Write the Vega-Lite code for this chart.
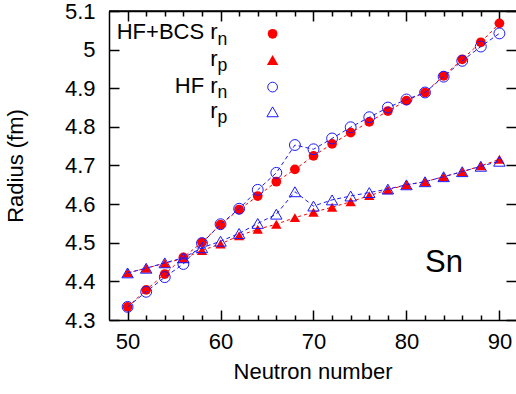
{
  "$schema": "https://vega.github.io/schema/vega-lite/v6.json",
  "width": 407,
  "height": 309,
  "autosize": "none",
  "padding": {"left": 109, "top": 11, "right": 0, "bottom": 74},
  "background": "white",
  "config": {
    "font": "Liberation Sans",
    "view": {"stroke": null},
    "axis": {
      "domainColor": "black",
      "domainWidth": 1.5,
      "tickColor": "black",
      "tickWidth": 1.5,
      "grid": false,
      "labelFont": "Liberation Sans",
      "labelFontSize": 22,
      "labelColor": "black",
      "titleFont": "Liberation Sans",
      "titleFontSize": 22,
      "titleFontWeight": "normal",
      "titleColor": "black"
    }
  },
  "datasets": {
    "radii": [
      {"N": 50, "bcs_rn": 4.334, "bcs_rp": 4.422, "hf_rn": 4.334, "hf_rp": 4.422},
      {"N": 52, "bcs_rn": 4.378, "bcs_rp": 4.434, "hf_rn": 4.373, "hf_rp": 4.434},
      {"N": 54, "bcs_rn": 4.419, "bcs_rp": 4.447, "hf_rn": 4.411, "hf_rp": 4.448},
      {"N": 56, "bcs_rn": 4.462, "bcs_rp": 4.459, "hf_rn": 4.445, "hf_rp": 4.461},
      {"N": 58, "bcs_rn": 4.501, "bcs_rp": 4.480, "hf_rn": 4.499, "hf_rp": 4.487},
      {"N": 60, "bcs_rn": 4.547, "bcs_rp": 4.497, "hf_rn": 4.548, "hf_rp": 4.504},
      {"N": 62, "bcs_rn": 4.586, "bcs_rp": 4.518, "hf_rn": 4.588, "hf_rp": 4.524},
      {"N": 64, "bcs_rn": 4.621, "bcs_rp": 4.535, "hf_rn": 4.637, "hf_rp": 4.550},
      {"N": 66, "bcs_rn": 4.658, "bcs_rp": 4.548, "hf_rn": 4.681, "hf_rp": 4.574},
      {"N": 68, "bcs_rn": 4.690, "bcs_rp": 4.565, "hf_rn": 4.753, "hf_rp": 4.632},
      {"N": 70, "bcs_rn": 4.725, "bcs_rp": 4.579, "hf_rn": 4.742, "hf_rp": 4.595},
      {"N": 72, "bcs_rn": 4.756, "bcs_rp": 4.592, "hf_rn": 4.770, "hf_rp": 4.611},
      {"N": 74, "bcs_rn": 4.785, "bcs_rp": 4.606, "hf_rn": 4.799, "hf_rp": 4.621},
      {"N": 76, "bcs_rn": 4.813, "bcs_rp": 4.622, "hf_rn": 4.825, "hf_rp": 4.630},
      {"N": 78, "bcs_rn": 4.841, "bcs_rp": 4.637, "hf_rn": 4.850, "hf_rp": 4.639},
      {"N": 80, "bcs_rn": 4.868, "bcs_rp": 4.650, "hf_rn": 4.871, "hf_rp": 4.650},
      {"N": 82, "bcs_rn": 4.889, "bcs_rp": 4.658, "hf_rn": 4.889, "hf_rp": 4.658},
      {"N": 84, "bcs_rn": 4.932, "bcs_rp": 4.671, "hf_rn": 4.930, "hf_rp": 4.671},
      {"N": 86, "bcs_rn": 4.975, "bcs_rp": 4.684, "hf_rn": 4.971, "hf_rp": 4.684},
      {"N": 88, "bcs_rn": 5.019, "bcs_rp": 4.699, "hf_rn": 5.008, "hf_rp": 4.698},
      {"N": 90, "bcs_rn": 5.068, "bcs_rp": 4.716, "hf_rn": 5.042, "hf_rp": 4.711}
    ],
    "one": [{}]
  },
  "layer": [
    {
      "data": {"name": "one"},
      "mark": {"type": "rule", "color": "black", "strokeWidth": 1.5},
      "encoding": {
        "x": {"datum": 48, "type": "quantitative", "scale": {"domain": [48, 91.785], "nice": false, "zero": false}, "axis": null},
        "x2": {"datum": 91.785},
        "y": {"datum": 5.1, "type": "quantitative", "scale": {"domain": [4.3, 5.1], "nice": false, "zero": false}, "axis": null}
      }
    },
    {
      "data": {"name": "radii"},
      "transform": [{"fold": ["bcs_rn", "bcs_rp"], "as": ["series", "radius"]}],
      "mark": {"type": "line", "color": "#ff0000", "strokeWidth": 1, "strokeDash": [3, 3]},
      "encoding": {
        "x": {"field": "N", "type": "quantitative",
          "axis": {"orient": "bottom", "values": [50, 60, 70, 80, 90], "tickSize": -10, "labelPadding": 21, "title": "Neutron number", "titlePadding": 9}},
        "y": {"field": "radius", "type": "quantitative",
          "axis": {"orient": "left", "values": [4.3, 4.4, 4.5, 4.6, 4.7, 4.8, 4.9, 5.0, 5.1], "format": "~g", "tickSize": -10, "labelPadding": 24, "title": "Radius (fm)", "titlePadding": 37}},
        "detail": {"field": "series", "type": "nominal"}
      }
    },
    {
      "data": {"name": "radii"},
      "transform": [{"fold": ["bcs_rn", "bcs_rp"], "as": ["series", "radius"]}],
      "mark": {"type": "point", "filled": true, "opacity": 1, "color": "#ff0000", "strokeWidth": 0},
      "encoding": {
        "x": {"field": "N", "type": "quantitative",
          "axis": {"orient": "bottom", "values": [52, 54, 56, 58, 62, 64, 66, 68, 72, 74, 76, 78, 82, 84, 86, 88], "tickSize": -5, "labels": false, "domain": false, "title": null}},
        "y": {"field": "radius", "type": "quantitative", "axis": null},
        "shape": {"field": "series", "type": "nominal", "scale": {"domain": ["bcs_rn", "bcs_rp"], "range": ["circle", "triangle-up"]}, "legend": null},
        "size": {"field": "series", "type": "nominal", "scale": {"domain": ["bcs_rn", "bcs_rp"], "range": [95, 130]}, "legend": null}
      }
    },
    {
      "data": {"name": "radii"},
      "transform": [{"fold": ["hf_rn", "hf_rp"], "as": ["series", "radius"]}],
      "mark": {"type": "line", "color": "#1a1aff", "strokeWidth": 1, "strokeDash": [4, 3]},
      "encoding": {
        "x": {"field": "N", "type": "quantitative",
          "axis": {"orient": "top", "values": [50, 60, 70, 80, 90], "tickSize": -10, "labels": false, "title": null}},
        "y": {"field": "radius", "type": "quantitative",
          "axis": {"orient": "right", "values": [4.3, 4.4, 4.5, 4.6, 4.7, 4.8, 4.9, 5.0, 5.1], "tickSize": -10, "labels": false, "domain": false, "title": null}},
        "detail": {"field": "series", "type": "nominal"}
      }
    },
    {
      "data": {"name": "radii"},
      "transform": [{"fold": ["hf_rn", "hf_rp"], "as": ["series", "radius"]}],
      "mark": {"type": "point", "filled": false, "opacity": 1, "color": "#1a1aff", "strokeWidth": 1},
      "encoding": {
        "x": {"field": "N", "type": "quantitative",
          "axis": {"orient": "top", "values": [52, 54, 56, 58, 62, 64, 66, 68, 72, 74, 76, 78, 82, 84, 86, 88], "tickSize": -5, "labels": false, "domain": false, "title": null}},
        "y": {"field": "radius", "type": "quantitative", "axis": null},
        "shape": {"field": "series", "type": "nominal", "scale": {"domain": ["hf_rn", "hf_rp"], "range": ["circle", "triangle-up"]}, "legend": null},
        "size": {"field": "series", "type": "nominal", "scale": {"domain": ["hf_rn", "hf_rp"], "range": [95, 130]}, "legend": null}
      }
    },
    {
      "data": {"name": "one"},
      "mark": {"type": "text", "text": "Sn", "fontSize": 31, "align": "left", "baseline": "alphabetic", "color": "black"},
      "encoding": {"x": {"datum": 82, "type": "quantitative", "axis": null}, "y": {"datum": 4.424, "type": "quantitative", "axis": null}}
    },
    {
      "data": {"name": "one"},
      "mark": {"type": "text", "text": "HF+BCS r", "fontSize": 22, "align": "right", "baseline": "alphabetic", "color": "black"},
      "encoding": {"x": {"datum": 59.68, "type": "quantitative", "axis": null}, "y": {"datum": 5.0267, "type": "quantitative", "axis": null}}
    },
    {
      "data": {"name": "one"},
      "mark": {"type": "text", "text": "n", "fontSize": 17.6, "align": "left", "baseline": "alphabetic", "dy": 5.7, "color": "black"},
      "encoding": {"x": {"datum": 59.68, "type": "quantitative", "axis": null}, "y": {"datum": 5.0267, "type": "quantitative", "axis": null}}
    },
    {
      "data": {"name": "one"},
      "mark": {"type": "text", "text": "r", "fontSize": 22, "align": "right", "baseline": "alphabetic", "color": "black"},
      "encoding": {"x": {"datum": 59.68, "type": "quantitative", "axis": null}, "y": {"datum": 4.9586, "type": "quantitative", "axis": null}}
    },
    {
      "data": {"name": "one"},
      "mark": {"type": "text", "text": "p", "fontSize": 17.6, "align": "left", "baseline": "alphabetic", "dy": 5.7, "color": "black"},
      "encoding": {"x": {"datum": 59.68, "type": "quantitative", "axis": null}, "y": {"datum": 4.9586, "type": "quantitative", "axis": null}}
    },
    {
      "data": {"name": "one"},
      "mark": {"type": "text", "text": "HF r", "fontSize": 22, "align": "right", "baseline": "alphabetic", "color": "black"},
      "encoding": {"x": {"datum": 59.68, "type": "quantitative", "axis": null}, "y": {"datum": 4.8887, "type": "quantitative", "axis": null}}
    },
    {
      "data": {"name": "one"},
      "mark": {"type": "text", "text": "n", "fontSize": 17.6, "align": "left", "baseline": "alphabetic", "dy": 5.7, "color": "black"},
      "encoding": {"x": {"datum": 59.68, "type": "quantitative", "axis": null}, "y": {"datum": 4.8887, "type": "quantitative", "axis": null}}
    },
    {
      "data": {"name": "one"},
      "mark": {"type": "text", "text": "r", "fontSize": 22, "align": "right", "baseline": "alphabetic", "color": "black"},
      "encoding": {"x": {"datum": 59.68, "type": "quantitative", "axis": null}, "y": {"datum": 4.824, "type": "quantitative", "axis": null}}
    },
    {
      "data": {"name": "one"},
      "mark": {"type": "text", "text": "p", "fontSize": 17.6, "align": "left", "baseline": "alphabetic", "dy": 5.7, "color": "black"},
      "encoding": {"x": {"datum": 59.68, "type": "quantitative", "axis": null}, "y": {"datum": 4.824, "type": "quantitative", "axis": null}}
    },
    {
      "data": {"name": "one"},
      "mark": {"type": "point", "shape": "circle", "size": 95, "filled": true, "opacity": 1, "color": "#ff0000", "strokeWidth": 0},
      "encoding": {"x": {"datum": 65.6, "type": "quantitative", "axis": null}, "y": {"datum": 5.041, "type": "quantitative", "axis": null}}
    },
    {
      "data": {"name": "one"},
      "mark": {"type": "point", "shape": "triangle-up", "size": 130, "filled": true, "opacity": 1, "color": "#ff0000", "strokeWidth": 0},
      "encoding": {"x": {"datum": 65.6, "type": "quantitative", "axis": null}, "y": {"datum": 4.973, "type": "quantitative", "axis": null}}
    },
    {
      "data": {"name": "one"},
      "mark": {"type": "point", "shape": "circle", "size": 95, "filled": false, "opacity": 1, "color": "#1a1aff", "strokeWidth": 1},
      "encoding": {"x": {"datum": 65.6, "type": "quantitative", "axis": null}, "y": {"datum": 4.903, "type": "quantitative", "axis": null}}
    },
    {
      "data": {"name": "one"},
      "mark": {"type": "point", "shape": "triangle-up", "size": 130, "filled": false, "opacity": 1, "color": "#1a1aff", "strokeWidth": 1},
      "encoding": {"x": {"datum": 65.6, "type": "quantitative", "axis": null}, "y": {"datum": 4.839, "type": "quantitative", "axis": null}}
    }
  ],
  "resolve": {"axis": {"x": "independent", "y": "independent"}}
}
